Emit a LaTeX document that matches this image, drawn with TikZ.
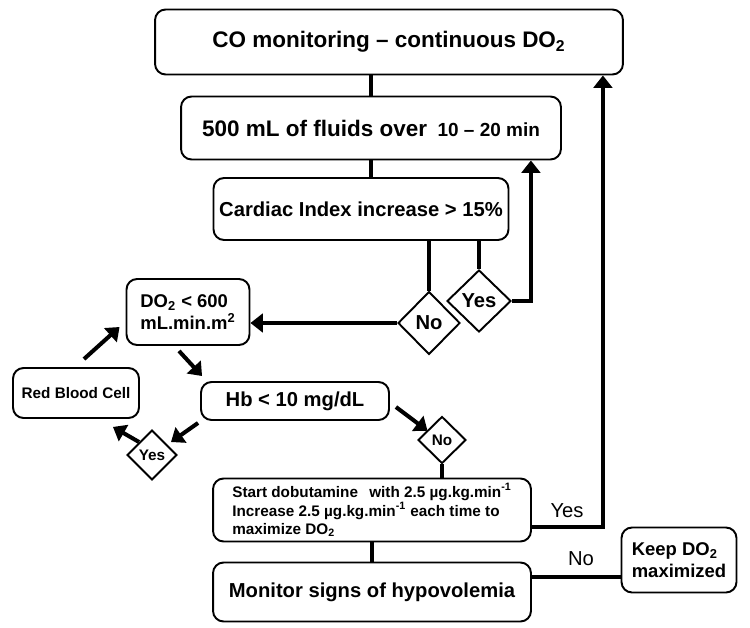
\documentclass[tikz,border=0pt]{standalone}
\usepackage{fontspec}
\setmainfont{Liberation Sans}
\usetikzlibrary{arrows.meta,shapes.geometric,calc}

\begin{document}
\begin{tikzpicture}[x=0.02cm,y=-0.02cm,>={Triangle[length=7pt,width=10.5pt]},
  main node/.style={draw,rounded corners=6pt,line width=1.1pt,font=\bfseries,inner sep=2pt},
  choice node/.style={diamond,draw,line width=1.1pt,font=\bfseries,inner sep=0pt},
  flow/.style={line width=2.3pt},
  big/.style={font=\bfseries\fontsize{11.5}{13}\selectfont},
  huge/.style={font=\bfseries\fontsize{12.8}{14}\selectfont},
  mid/.style={font=\bfseries\fontsize{10.5}{12.5}\selectfont},
  small/.style={font=\bfseries\fontsize{8.7}{10.6}\selectfont}]
  \useasboundingbox (0,0) rectangle (750,628);

  % main column
  \node[main node,huge,minimum width=9.36cm,minimum height=1.3cm] (co) at (389,42) {CO monitoring -- continuous DO\textsubscript{2}};
  \node[main node,huge,minimum width=7.6cm,minimum height=1.26cm] (fluids) at (371,128) {500 mL of fluids over\hspace{6pt}{\fontsize{10.8}{12}\selectfont 10 -- 20 min}};
  \node[main node,big,minimum width=5.9cm,minimum height=1.24cm] (cardiac) at (361,209) {Cardiac Index increase > 15\%};
  \node[choice node,big,minimum width=1.24cm,minimum height=1.26cm] (no1) at (429,323) {No};
  \node[choice node,big,minimum width=1.28cm,minimum height=1.24cm] (yes1) at (479,301) {Yes};

  % left loop
  \node[main node,mid,minimum width=2.46cm,minimum height=1.32cm,align=left] (do2) at (188,312) {DO\textsubscript{2} < 600\\mL.min.m\textsuperscript{2}};
  \node[main node,big,minimum width=3.76cm,minimum height=0.76cm] (hb) at (295,401) {Hb < 10 mg/dL};
  \node[main node,small,minimum width=2.52cm,minimum height=1.0cm] (rbc) at (76,393) {Red Blood Cell};
  \node[choice node,small,minimum width=1.0cm,minimum height=1.0cm] (yes2) at (152,455) {Yes};
  \node[choice node,small,minimum width=0.96cm,minimum height=0.94cm] (no2) at (442,440) {No};

  % bottom
  \node[main node,small,minimum width=6.36cm,minimum height=1.26cm,align=left] (dobu) at (372,510) {Start dobutamine\hspace{4pt} with 2.5 µg.kg.min\textsuperscript{-1}\\Increase 2.5 µg.kg.min\textsuperscript{-1} each time to\\maximize DO\textsubscript{2}};
  \node[main node,big,minimum width=6.36cm,minimum height=1.18cm] (mon) at (372,592) {Monitor signs of hypovolemia};
  \node[main node,mid,minimum width=2.3cm,minimum height=1.3cm,align=left] (keep) at (679,560) {Keep DO\textsubscript{2}\\maximized};
  \node[font=\fontsize{11.5}{13}\selectfont] (yeslbl) at (567,511) {Yes};
  \node[font=\fontsize{11.5}{13}\selectfont] (nolbl) at (581,559) {No};
  \coordinate (keeplink) at ($(keep.west)+(0,17)$);

  \draw[flow] (co.south -| fluids) -- (fluids.north);
  \draw[flow] (fluids.south) -- (fluids.south |- cardiac.north);
  \draw[flow] (no1.north) -- (no1.north |- cardiac.south);
  \draw[flow] (yes1.north) -- (yes1.north |- cardiac.south);
  \draw[flow,->] (yes1.east) -| ($(fluids.south east)+(-31,0)$);
  \draw[flow,->] (no1.west) -- (no1.west -| do2.east);
  \draw[flow,->] ($(do2.south)+(-9,5)$) -- ($(hb.north west)+(2,-5)$);
  \draw[flow,->] ($(hb.south west)+(-2,2)$) -- ($(yes2.north east)+(6,0)$);
  \draw[flow,->] (yes2.north west) -- ($(rbc.south east)+(-27,8)$);
  \draw[flow,->] ($(rbc.north)+(8,-8)$) -- ($(do2.west)+(-6,15)$);
  \draw[flow,->] ($(hb.east)+(6,6)$) -- ($(no2.north west)+(-2,3)$);
  \draw[flow] (no2.south) -- (no2.south |- dobu.north);
  \draw[flow,->] ($(dobu.east)+(0,17)$) -| ($(co.south east)+(-21,0)$);
  \draw[flow] (dobu.south) -- (mon.north);
  \draw[flow] (mon.east |- keeplink) -- (keeplink);
\end{tikzpicture}
\end{document}
